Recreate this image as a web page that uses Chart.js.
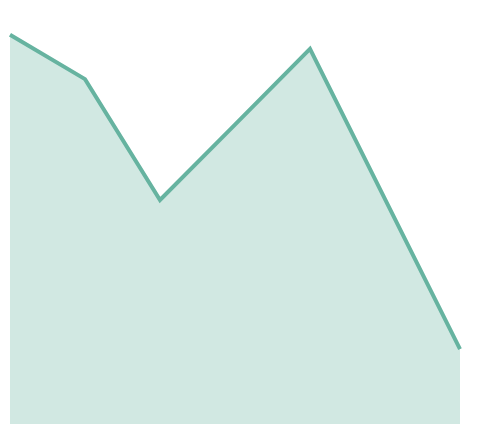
<!DOCTYPE html>
<html>
<head>
<meta charset="utf-8">
<script src="https://cdn.jsdelivr.net/npm/chart.js@4"></script>
<style>
  html, body { margin: 0; padding: 0; background: #fff; }
  #chart { display: block; }
</style>
</head>
<body>
<canvas id="chart" width="490" height="438"></canvas>
<script>
const labels = ['1', '2', '3', '4', '5', '6', '7'];
const values = [94.0, 83.3, 54.1, 72.3, 90.6, 54.3, 18.1];

const data = {
    labels: labels,
    datasets: [{
        data: values,
        borderColor: 'rgb(102, 179, 160)',
        backgroundColor: 'rgba(102, 179, 160, 0.3)',
        borderWidth: 4,
        fill: 'origin',
        pointRadius: 0,
        tension: 0
    }]
};

const config = {
    type: 'line',
    data: data,
    options: {
        responsive: false,
        animation: false,
        layout: {
            padding: { left: 10, right: 30, top: 10, bottom: 14 }
        },
        plugins: {
            legend: { display: false },
            tooltip: { enabled: false }
        },
        scales: {
            x: { display: false },
            y: { display: false, min: 0, max: 100 }
        }
    }
};

new Chart(document.getElementById('chart'), config);
</script>
</body>
</html>
